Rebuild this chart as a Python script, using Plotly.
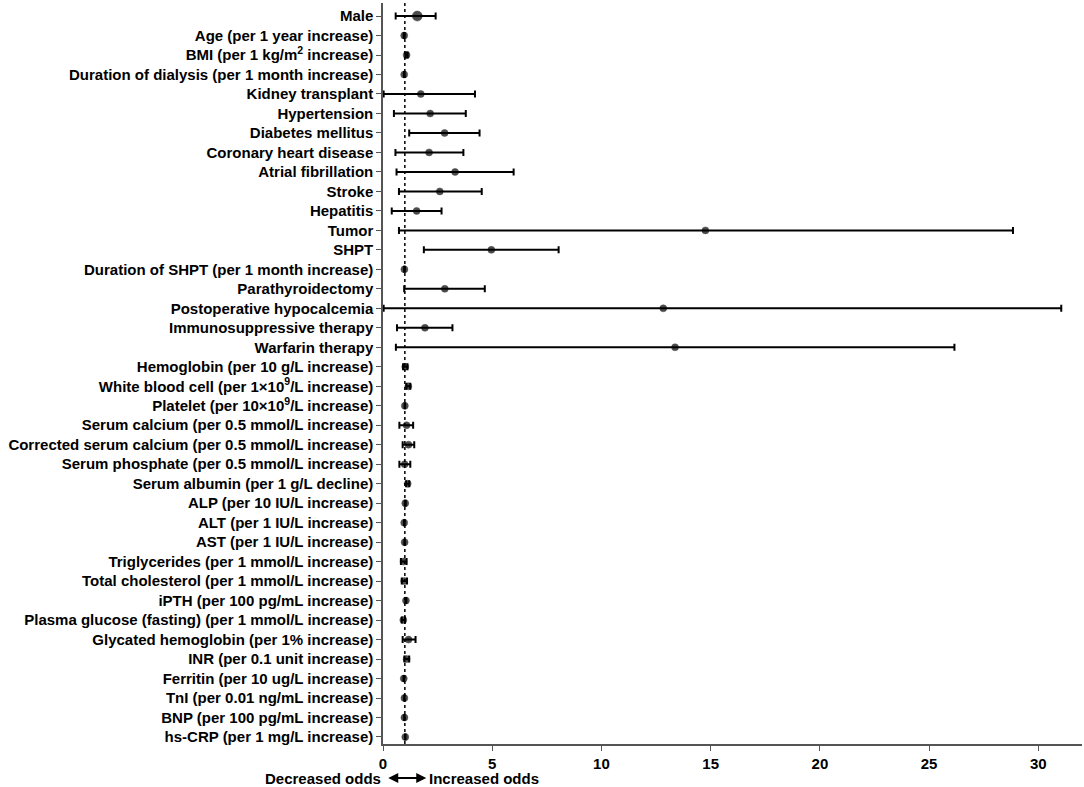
import plotly.graph_objects as go

# Forest plot of odds ratios (95% CI)
labels = [
    "Male",
    "Age (per 1 year increase)",
    "BMI (per 1 kg/m<sup>2</sup> increase)",
    "Duration of dialysis (per 1 month increase)",
    "Kidney transplant",
    "Hypertension",
    "Diabetes mellitus",
    "Coronary heart disease",
    "Atrial fibrillation",
    "Stroke",
    "Hepatitis",
    "Tumor",
    "SHPT",
    "Duration of SHPT (per 1 month increase)",
    "Parathyroidectomy",
    "Postoperative hypocalcemia",
    "Immunosuppressive therapy",
    "Warfarin therapy",
    "Hemoglobin (per 10 g/L increase)",
    "White blood cell (per 1×10<sup>9</sup>/L increase)",
    "Platelet (per 10×10<sup>9</sup>/L increase)",
    "Serum calcium (per 0.5 mmol/L increase)",
    "Corrected serum calcium (per 0.5 mmol/L increase)",
    "Serum phosphate (per 0.5 mmol/L increase)",
    "Serum albumin (per 1 g/L decline)",
    "ALP (per 10 IU/L increase)",
    "ALT (per 1 IU/L increase)",
    "AST (per 1 IU/L increase)",
    "Triglycerides (per 1 mmol/L increase)",
    "Total cholesterol (per 1 mmol/L increase)",
    "iPTH (per 100 pg/mL increase)",
    "Plasma glucose (fasting) (per 1 mmol/L increase)",
    "Glycated hemoglobin (per 1% increase)",
    "INR (per 0.1 unit increase)",
    "Ferritin (per 10 ug/L increase)",
    "TnI (per 0.01 ng/mL increase)",
    "BNP (per 100 pg/mL increase)",
    "hs-CRP (per 1 mg/L increase)",
]

odds_ratio = [1.57, 0.97, 1.08, 0.97, 1.73, 2.16, 2.82, 2.11, 3.30, 2.60,
              1.54, 14.76, 4.96, 0.98, 2.83, 12.83, 1.92, 13.37, 1.02, 1.16,
              1.00, 1.08, 1.17, 0.99, 1.13, 1.02, 0.97, 0.99, 0.94, 0.97,
              1.05, 0.93, 1.17, 1.08, 0.95, 0.98, 0.98, 1.02]
ci_low = [0.58, 0.95, 1.03, 0.96, 0.03, 0.50, 1.20, 0.57, 0.62, 0.73,
          0.40, 0.73, 1.87, 0.97, 0.97, 0.03, 0.64, 0.59, 0.92, 1.07,
          0.99, 0.75, 0.90, 0.75, 1.06, 1.00, 0.96, 0.98, 0.82, 0.86,
          1.03, 0.86, 0.90, 0.98, 0.94, 0.97, 0.97, 1.01]
ci_high = [2.41, 0.99, 1.13, 0.99, 4.21, 3.79, 4.42, 3.68, 5.98, 4.52,
           2.68, 28.84, 8.04, 1.00, 4.66, 31.05, 3.18, 26.16, 1.12, 1.25,
           1.01, 1.38, 1.43, 1.25, 1.20, 1.04, 0.99, 1.00, 1.08, 1.10,
           1.07, 1.01, 1.49, 1.20, 0.97, 0.99, 0.99, 1.03]

x_ticks = [0, 5, 10, 15, 20, 25, 30]

rows = list(range(len(labels)))
err_plus = [h - o for h, o in zip(ci_high, odds_ratio)]
err_minus = [o - l for o, l in zip(odds_ratio, ci_low)]
sizes = [10] + [7] * (len(labels) - 1)

fig = go.Figure()

fig.add_trace(go.Scatter(
    x=odds_ratio,
    y=rows,
    mode="markers",
    marker=dict(color="black", size=sizes, line=dict(color="black", width=0.5)),
    error_x=dict(type="data", symmetric=False, array=err_plus,
                 arrayminus=err_minus, color="black", thickness=2, width=3.5),
    cliponaxis=False,
    showlegend=False,
))

# reference line at OR = 1
fig.add_shape(type="line", x0=1, x1=1, y0=0, y1=1, xref="x", yref="paper",
              line=dict(color="black", width=1.5, dash="3px,3px"), layer="below")

bold = dict(family="Liberation Sans, Arial, sans-serif", size=15,
            color="black", weight="bold")

fig.add_annotation(text="Decreased odds", x=0, y=-0.046, xref="x", yref="paper",
                   xanchor="right", yanchor="middle", showarrow=False, font=bold)
fig.add_annotation(text="Increased odds", x=2.02, y=-0.046, xref="x", yref="paper",
                   xanchor="left", yanchor="middle", showarrow=False, font=bold)
fig.add_annotation(text=" ", x=1.98, y=-0.046, xref="x", yref="paper",
                   ax=-41, ay=0, showarrow=True, arrowside="end+start",
                   arrowhead=2, arrowsize=1, arrowwidth=2, arrowcolor="black")

fig.update_layout(
    width=1084,
    height=787,
    margin=dict(l=383, r=2, t=3, b=43),
    plot_bgcolor="white",
    paper_bgcolor="white",
    xaxis=dict(
        range=[0, 32],
        tickvals=x_ticks,
        ticks="outside",
        ticklen=5,
        tickcolor="#555",
        showline=True,
        linecolor="#555",
        linewidth=1.5,
        showgrid=False,
        zeroline=False,
        tickfont=bold,
    ),
    yaxis=dict(
        range=[37.36, -0.67],
        tickvals=rows,
        ticktext=labels,
        ticks="outside",
        ticklen=5,
        tickcolor="#555",
        showline=True,
        linecolor="#555",
        linewidth=1.5,
        showgrid=False,
        zeroline=False,
        tickfont=bold,
    ),
)

# drop the default page margin so the figure sits at the window's corner
fig.write_html("out.html", config={"displayModeBar": False},
               post_script="document.body.style.margin='0px';document.body.style.overflow='hidden';")
